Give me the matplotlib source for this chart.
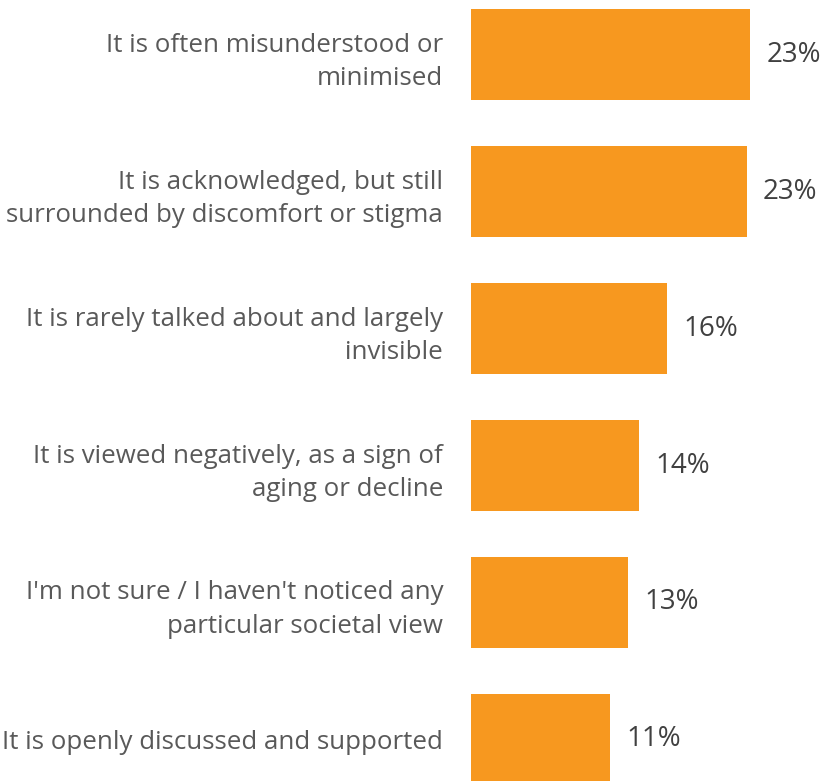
import matplotlib.pyplot as plt
import matplotlib

matplotlib.rcParams['font.family'] = ['Open Sans', 'DejaVu Sans']

categories = [
    'It is often misunderstood or\nminimised',
    'It is acknowledged, but still\nsurrounded by discomfort or stigma',
    'It is rarely talked about and largely\ninvisible',
    'It is viewed negatively, as a sign of\naging or decline',
    "I'm not sure / I haven't noticed any\nparticular societal view",
    'It is openly discussed and supported',
]
values = [22.9, 22.6, 16.1, 13.8, 12.9, 11.4]

bar_color = '#F7981F'
label_color = '#595959'
value_color = '#404040'

fig = plt.figure(figsize=(8.26, 7.81), dpi=100)
# axes starts where the bars start, labels are drawn to its left
ax = fig.add_axes([471 / 826, 0, 355 / 826, 1])

y_pos = list(range(len(values)))
ax.barh(y_pos, values, height=0.665, color=bar_color)
ax.set_ylim(5.303, -0.398)
ax.set_xlim(0, 355 / 12.2)

for y, v in zip(y_pos, values):
    ax.text(v + 1.3, y, '%.0f%%' % v, va='center', ha='left',
            fontsize=20, color=value_color)

ax.set_yticks(y_pos)
ax.set_yticklabels(categories, fontsize=18.6, color=label_color,
                   linespacing=1.45)
ax.tick_params(axis='y', length=0, pad=20)
ax.set_xticks([])
for s in ax.spines.values():
    s.set_visible(False)

fig.savefig('out.png', dpi=100)
